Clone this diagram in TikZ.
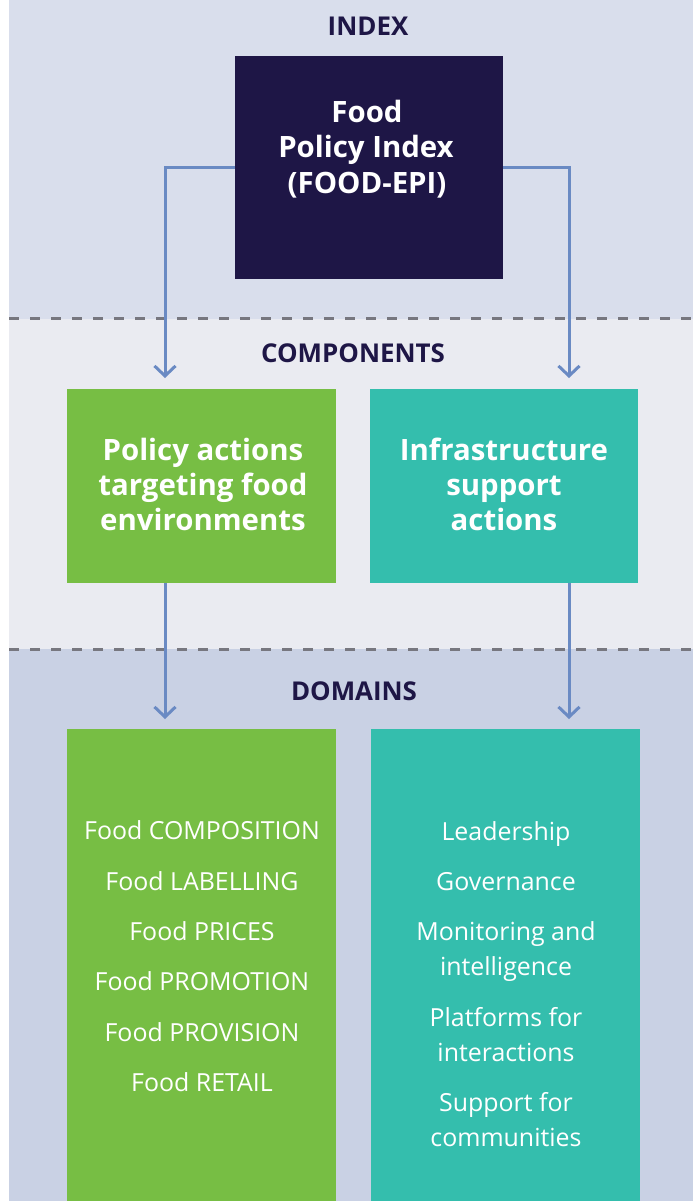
\documentclass[tikz,border=0pt]{standalone}
\usepackage{fontspec}
\setmainfont{Open Sans}
\usetikzlibrary{arrows.meta}
\definecolor{navy}{HTML}{1E1646}
\definecolor{bandtop}{HTML}{D9DEEC}
\definecolor{bandmid}{HTML}{EAEBF1}
\definecolor{bandlow}{HTML}{C9D1E4}
\definecolor{leaf}{HTML}{77BE44}
\definecolor{sea}{HTML}{34BEAD}
\definecolor{link}{HTML}{6A8AC3}
\definecolor{rule}{HTML}{77777F}
\tikzset{
  panel/.style={inner sep=0pt, anchor=north west, draw=none},
  title/.style={anchor=base, text=navy, font=\bfseries\fontsize{26}{30}\selectfont},
  boxtext/.style={anchor=base, text=white, font=\bfseries\fontsize{29.5}{34}\selectfont},
  itemtext/.style={anchor=base, text=white, font=\fontsize{25}{30}\selectfont},
  divider/.style={rule, line width=3bp, dash pattern=on 10bp off 11bp},
  flow/.style={link, line width=3bp, -{Straight Barb[length=10bp, width=21bp, line width=3bp]}},
}
\begin{document}
\begin{tikzpicture}[x=1bp, y=-1bp]
\useasboundingbox (0,0) rectangle (693,1201);
% background bands
\fill[white] (0,0) rectangle (693,1201);
\fill[bandtop] (9,0) rectangle (693,319);
\fill[bandmid] (9,319) rectangle (693,649);
\fill[bandlow] (9,649) rectangle (693,1201);
\draw[divider] (9,318.5) -- (693,318.5);
\draw[divider] (9,649) -- (693,649);

% section titles
\node[title] (hIndex) at (368,35) {INDEX};
\node[title] (hComp) at (353,362) {COMPONENTS};
\node[title] (hDom) at (354,700) {DOMAINS};

% index box
\node[panel, fill=navy, minimum width=268bp, minimum height=223bp] (idx) at (235,56) {};
\node[boxtext] (i1) at (367,122) {Food};
\node[boxtext] (i2) at (366,157) {Policy Index};
\node[boxtext] (i3) at (367,193) {(FOOD-EPI)};

% component boxes
\node[panel, fill=leaf, minimum width=269bp, minimum height=194bp] (compA) at (67,389) {};
\node[panel, fill=sea, minimum width=268bp, minimum height=194bp] (compB) at (370,389) {};
\node[boxtext] (a1) at (203,460) {Policy actions};
\node[boxtext] (a2) at (203,495) {targeting food};
\node[boxtext] (a3) at (203,530) {environments};
\node[boxtext] (b1) at (504,460) {Infrastructure};
\node[boxtext] (b2) at (504,495) {support};
\node[boxtext] (b3) at (504,530) {actions};

% domain boxes
\node[panel, fill=leaf, minimum width=269bp, minimum height=472bp] (domA) at (67,729) {};
\node[panel, fill=sea, minimum width=269bp, minimum height=472bp] (domB) at (371,729) {};
\node[itemtext] (p1) at (202,839) {Food COMPOSITION};
\node[itemtext] (p2) at (202,890) {Food LABELLING};
\node[itemtext] (p3) at (202,940) {Food PRICES};
\node[itemtext] (p4) at (202,990) {Food PROMOTION};
\node[itemtext] (p5) at (202,1041) {Food PROVISION};
\node[itemtext] (p6) at (202,1091) {Food RETAIL};
\node[itemtext] (q1) at (506,840) {Leadership};
\node[itemtext] (q2) at (506,890) {Governance};
\node[itemtext] (q3) at (506,940) {Monitoring and};
\node[itemtext] (q4) at (506,975) {intelligence};
\node[itemtext] (q5) at (506,1026) {Platforms for};
\node[itemtext] (q6) at (506,1061) {interactions};
\node[itemtext] (q7) at (506,1111) {Support for};
\node[itemtext] (q8) at (506,1146) {communities};

% connector targets
\coordinate (toA) at (165,378);
\coordinate (toB) at (569,378);
\coordinate (toDA) at (165,719);
\coordinate (toDB) at (569,719);

\draw[flow] (idx.west) -| (toA);
\draw[flow] (idx.east) -| (toB);
\draw[flow] (compA.south -| toA) -- (toDA);
\draw[flow] (compB.south -| toB) -- (toDB);
\end{tikzpicture}
\end{document}
